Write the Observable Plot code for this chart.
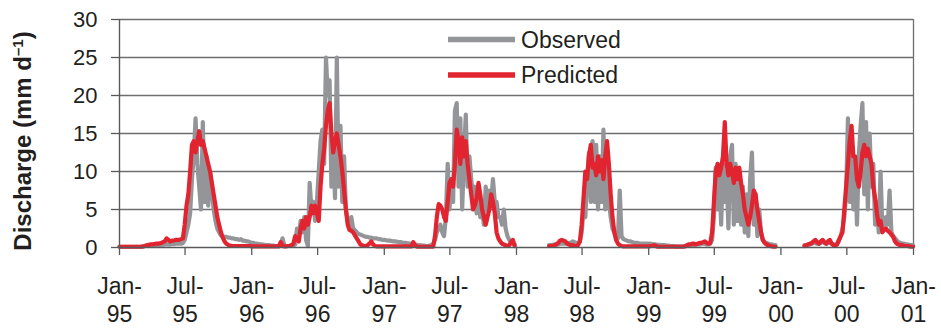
<!DOCTYPE html>
<html>
<head>
<meta charset="utf-8">
<script src="https://cdn.jsdelivr.net/npm/d3@7"></script>
<script src="https://cdn.jsdelivr.net/npm/@observablehq/plot@0.6"></script>
<style>
  html, body { margin: 0; padding: 0; background: #ffffff; }
  #chart svg { display: block; }
</style>
</head>
<body>
<div id="chart"></div>
<script>
// ---- Data: discharge (mm/d) sampled every 5 days from 1 Jan of each year (null = no data) ----
const STEP_DAYS = 5;
const years = [1995, 1996, 1997, 1998, 1999, 2000];

const obs1995 = [
  0.1,0.1,0.1,0.1,0.1,0.1,0.1,0.1,0.1,0.1,
  0.1,0.1,0.1,0.15,0.2,0.2,0.2,0.25,0.3,0.3,
  0.3,0.35,0.3,0.4,0.35,0.4,0.4,0.45,0.4,0.5,
  0.45,0.5,0.5,0.6,0.5,0.6,1.0,2,3,4.5,
  9,12,17,11,8,5,16.5,6,12,5.5,
  10,7.5,5,3.5,2.5,2,1.6,1.5,1.4,1.4,
  1.3,1.3,1.2,1.2,1.1,1.1,1.0,1.1,0.9,0.9,
  0.8,0.8,0.7];
const pred1995 = [
  0.1,0.1,0.1,0.1,0.1,0.1,0.1,0.1,0.1,0.1,
  0.1,0.1,0.1,0.15,0.2,0.3,0.35,0.4,0.4,0.45,
  0.5,0.5,0.55,0.6,0.7,0.8,1.2,1.0,0.8,0.9,
  0.9,1.0,1.0,1.0,1.1,1.2,3,5.5,7,10,
  13.5,14,12.5,14,15.3,13.5,14,13,12,11,
  10,8.5,7,5.5,4,3,2,1.3,0.8,0.5,
  0.35,0.25,0.2,0.2,0.2,0.2,0.2,0.2,0.2,0.2,
  0.2,0.2,0.2];

const obs1996 = [
  0.6,0.6,0.5,0.5,0.45,0.4,0.4,0.35,0.3,0.3,
  0.3,0.25,0.25,0.2,0.2,0.2,0.3,1.2,0.3,0.2,
  0.2,0.2,0.3,0.3,0.4,2.5,1.5,3.5,2,4,
  1,0.2,8.5,5,6,3.5,6,10,14,15.5,
  11,25,20,22,8,13,6.5,25,8,16,
  6,12,5,3.5,3,4,2.5,2.3,2,1.8,
  1.7,1.6,1.5,1.4,1.4,1.3,1.3,1.2,1.2,1.2,
  1.1,1.1,1.0];
const pred1996 = [
  0.15,0.15,0.15,0.15,0.15,0.15,0.15,0.15,0.15,0.15,
  0.15,0.15,0.15,0.15,0.15,0.15,0.7,0.3,0.15,0.15,
  0.2,0.2,0.3,0.5,1.5,1,0.8,2.5,3.5,2.5,
  4,3,4,5.5,4.5,5.5,4.5,3.5,8,11,
  13,16,18,19,15,12.5,14,15,13.5,12,
  10,7.5,5,3,2.3,2.2,2,1.6,1.2,0.8,
  0.4,0.3,0.2,0.2,0.3,0.5,0.8,0.4,0.2,0.15,
  0.15,0.15,0.15];

const obs1997 = [
  1.0,0.95,0.9,0.9,0.85,0.8,0.8,0.75,0.7,0.7,
  0.65,0.6,0.6,0.55,0.5,0.5,0.45,0.4,0.35,0.3,
  0.3,0.25,0.25,0.2,0.2,0.25,0.3,0.5,1,2,
  2.5,3,2,1.5,4,11,5,9,6,18,
  19,8,17,5,12,17.5,8,12,9,6.5,
  8,4.5,6.5,4,5,3,8,5,7.5,6,
  9,6,6,4,4,3,5,2.5,1.5,1,
  0.7,0.5,0.4];
const pred1997 = [
  0.15,0.15,0.15,0.15,0.15,0.15,0.15,0.15,0.15,0.15,
  0.15,0.15,0.15,0.15,0.15,0.15,0.7,0.3,0.1,0.1,
  0.1,0.1,0.1,0.1,0.1,0.1,0.1,0.1,1.5,4,
  5.7,5.5,5,4,3.5,6,8.5,9,8,11,
  15.5,14,11,14.5,12,14,11,9,7,5,
  5.5,6.5,8.5,7,5,4,3,4,5,7,
  6,4.5,2,1.2,0.8,0.5,0.4,0.3,0.2,0.3,
  0.7,1,0.2];

const obs1998 = [
  null,null,null,null,null,null,null,null,null,null,
  null,null,null,null,null,null,null,null,0.3,0.3,
  0.35,0.4,0.4,0.4,0.5,0.5,0.5,0.5,0.5,0.6,
  0.6,0.8,0.7,0.6,0.6,0.8,2,5,4,9,
  12.5,6,14,6,13.5,5,12,6,15.5,5,
  12.5,6,4,2.5,2,1.5,1.2,7.5,1.5,1.1,
  1,0.9,0.8,0.8,0.7,0.6,0.6,0.6,0.5,0.5,
  0.5,0.5,0.5];
const pred1998 = [
  null,null,null,null,null,null,null,null,null,null,
  null,null,null,null,null,null,null,null,0.2,0.2,
  0.2,0.3,0.4,0.6,0.9,1,0.9,0.8,0.5,0.4,
  0.3,0.3,0.2,0.2,0.3,0.8,3,6.5,10,9,
  12,13.5,10.5,11,9.5,12,10,11.5,9,12,
  14,11,7,4,2,1,0.5,0.3,0.2,0.15,
  0.15,0.15,0.15,0.15,0.15,0.15,0.15,0.15,0.15,0.15,
  0.15,0.15,0.15];

const obs1999 = [
  0.5,0.5,0.45,0.4,0.4,0.35,0.35,0.3,0.3,0.3,
  0.25,0.25,0.2,0.2,0.2,0.15,0.15,0.15,0.15,0.15,
  0.2,0.2,0.25,0.3,0.3,0.35,0.4,0.4,0.4,0.5,
  0.5,0.5,0.4,0.4,0.5,1,4,10.5,5,9.5,
  3,11,6,10,2.5,12,13.5,3,11,3.5,
  10,3,8,2,7,1.5,9,12.5,3,7,
  1.5,5,2,1,0.7,0.6,0.5,0.4,0.4,0.3,
  0.3,null,null];
const pred1999 = [
  0.15,0.2,0.2,0.3,0.2,0.1,0.1,0.1,0.1,0.1,
  0.1,0.1,0.1,0.1,0.1,0.1,0.1,0.1,0.1,0.1,
  0.15,0.3,0.4,0.4,0.5,0.5,0.4,0.5,0.6,0.6,
  0.7,0.8,0.6,0.5,0.6,2,6,10,11,9.5,
  10.5,12,16.5,11,9.5,11,10,8.5,10.5,9,
  10.5,8.5,7,5,4,3,4,5.5,7.5,7,
  5,3.5,2,1,0.6,0.4,0.3,0.2,0.15,0.1,
  0.1,null,null];

const obs2000 = [
  null,null,null,null,null,null,null,null,null,null,
  null,null,null,0.3,0.3,0.4,0.4,0.5,0.6,0.6,
  0.5,0.5,0.6,0.7,0.6,0.5,0.6,0.7,0.5,0.4,
  0.4,0.5,0.8,1.5,2.5,4,7,17,6,14,
  5,11,3,12,16,19,7,16.5,5,15,
  8,11,3,6,2,10,2.5,3,4,3,
  7.5,2,1.5,1.2,0.9,0.7,0.6,0.5,0.5,0.4,
  0.4,0.35,0.3,0.3];
const pred2000 = [
  null,null,null,null,null,null,null,null,null,null,
  null,null,null,0.2,0.3,0.4,0.5,0.6,0.8,1,
  0.7,0.5,0.8,1,0.7,0.5,0.8,1,0.5,0.3,
  0.2,0.4,1,1.5,2,5,8,11,14,16,
  12,12,9,8,10,12.5,13.5,12,13,12,
  11,8,6.5,4.5,3,3.5,2,2.3,2.5,2.2,
  2,1.7,1.4,0.8,0.5,0.4,0.3,0.3,0.2,0.2,
  0.2,0.15,0.1,0.1];

const observedByYear = [obs1995, obs1996, obs1997, obs1998, obs1999, obs2000];
const predictedByYear = [pred1995, pred1996, pred1997, pred1998, pred1999, pred2000];

const yTicks = [0, 5, 10, 15, 20, 25, 30];
const monthLabels = {0: "Jan-", 6: "Jul-"};
const seriesNames = ["Observed", "Predicted"];
const colors = {Observed: "#939598", Predicted: "#e1242f"};
const yLabel = "Discharge (mm d";

// ---- Build tables ----
function rows(list) {
  const out = [];
  years.forEach((yr, k) => {
    const start = Date.UTC(yr, 0, 1);
    list[k].forEach((v, i) => {
      out.push({date: new Date(start + i * STEP_DAYS * 864e5), value: v == null ? NaN : v});
    });
  });
  return out;
}
const observed = rows(observedByYear);
const predicted = rows(predictedByYear);

const FONT = "'Liberation Sans', Arial, Helvetica, sans-serif";
const INK = "#231f20";
const GRID = "#6d6e71";

const chart = Plot.plot({
  width: 941,
  height: 330,
  marginLeft: 119,
  marginRight: 28,
  marginTop: 19,
  marginBottom: 83,
  style: {fontFamily: FONT, fontSize: "22px", color: INK, background: "#ffffff", overflow: "visible"},
  x: {type: "utc", domain: [new Date(Date.UTC(1995, 0, 1)), new Date(Date.UTC(2001, 0, 1))], label: null},
  y: {domain: [0, 30], label: null},
  marks: [
    Plot.gridY(yTicks.filter(t => t > 0), {stroke: GRID, strokeOpacity: 1, strokeWidth: 1.3}),
    Plot.ruleX([new Date(Date.UTC(2001, 0, 1))], {stroke: GRID, strokeWidth: 1.3}),
    Plot.line(observed, {x: "date", y: "value", stroke: colors.Observed, strokeWidth: 4.2}),
    Plot.line(predicted, {x: "date", y: "value", stroke: colors.Predicted, strokeWidth: 4.2}),
    Plot.ruleY([0], {stroke: "#58595b", strokeWidth: 1.4}),
    Plot.ruleX([new Date(Date.UTC(1995, 0, 1))], {stroke: "#58595b", strokeWidth: 1.4}),
    Plot.axisY({ticks: yTicks, tickSize: 8, tickPadding: 14, stroke: "#58595b", strokeWidth: 1.3, fill: INK, fontSize: 22, label: null}),
    Plot.axisX({ticks: d3.utcMonth.every(6), tickSize: 8, tickPadding: 22, stroke: "#58595b", strokeWidth: 1.3,
      tickFormat: d => monthLabels[d.getUTCMonth()], fill: INK, fontSize: 23, label: null}),
    Plot.axisX({ticks: d3.utcMonth.every(6), tickSize: 0, tickPadding: 58,
      tickFormat: d => String(d.getUTCFullYear()).slice(2), fill: INK, fontSize: 23, label: null})
  ]
});

document.getElementById("chart").appendChild(chart);

// ---- Legend (inside plot, top) and y-axis title ----
const svg = d3.select(chart);
const legend = svg.append("g").attr("font-family", FONT).attr("font-size", 23).attr("fill", INK)
  .attr("text-anchor", "start");
seriesNames.forEach((name, i) => {
  const y = 39.5 + i * 35.5;
  legend.append("line").attr("x1", 448).attr("x2", 515).attr("y1", y).attr("y2", y)
    .attr("stroke", colors[name]).attr("stroke-width", 5.5);
  legend.append("text").attr("x", 521).attr("y", y).attr("dy", "0.35em")
    .attr("text-anchor", "start").text(name);
});

const title = svg.append("text")
  .attr("transform", "translate(31,141) rotate(-90)")
  .attr("text-anchor", "middle")
  .attr("font-family", FONT).attr("font-size", 24).attr("font-weight", "bold").attr("fill", INK);
title.append("tspan").text(yLabel);
title.append("tspan").attr("baseline-shift", "super").attr("font-size", 15).text("\u20131");
title.append("tspan").text(")");
</script>
</body>
</html>
